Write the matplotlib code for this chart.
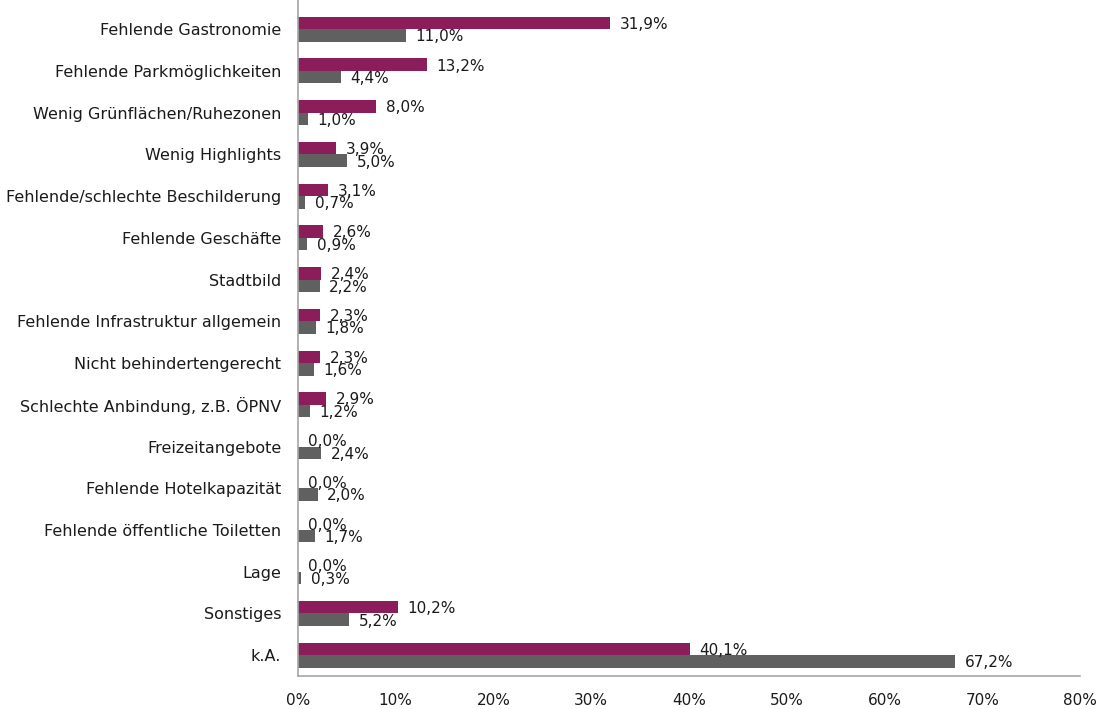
import numpy as np
import matplotlib.pyplot as plt

# Kategorien (von oben nach unten) und Anteile der beiden Befragungsgruppen
categories = [
    "Fehlende Gastronomie",
    "Fehlende Parkmöglichkeiten",
    "Wenig Grünflächen/Ruhezonen",
    "Wenig Highlights",
    "Fehlende/schlechte Beschilderung",
    "Fehlende Geschäfte",
    "Stadtbild",
    "Fehlende Infrastruktur allgemein",
    "Nicht behindertengerecht",
    "Schlechte Anbindung, z.B. ÖPNV",
    "Freizeitangebote",
    "Fehlende Hotelkapazität",
    "Fehlende öffentliche Toiletten",
    "Lage",
    "Sonstiges",
    "k.A.",
]
series_a = [31.9, 13.2, 8.0, 3.9, 3.1, 2.6, 2.4, 2.3, 2.3, 2.9, 0.0, 0.0, 0.0, 0.0, 10.2, 40.1]
series_b = [11.0, 4.4, 1.0, 5.0, 0.7, 0.9, 2.2, 1.8, 1.6, 1.2, 2.4, 2.0, 1.7, 0.3, 5.2, 67.2]
x_ticks = [0, 10, 20, 30, 40, 50, 60, 70, 80]

color_a = "#8C1D5B"
color_b = "#606060"
axis_gray = "#A6A6A6"

fig = plt.figure(figsize=(10.98, 7.09), dpi=100)
ax = fig.add_axes([0.2714, 0.0465, 0.7122, 0.9535])

y = np.arange(len(categories))
h = 0.3
bars_a = ax.barh(y - h / 2, series_a, height=h, color=color_a)
bars_b = ax.barh(y + h / 2, series_b, height=h, color=color_b)


def pct(v):
    return f"{v:.1f}%".replace(".", ",")


for bars, vals in ((bars_a, series_a), (bars_b, series_b)):
    for b, v in zip(bars, vals):
        ax.annotate(pct(v), (v, b.get_y() + b.get_height() / 2),
                    xytext=(7, -1), textcoords="offset points",
                    ha="left", va="center", fontsize=11, color="#1a1a1a")

ax.set_xlim(0, 80)
ax.set_ylim(len(categories) - 0.5, -0.7)
ax.set_xticks(x_ticks)
ax.set_xticklabels([f"{t}%" for t in x_ticks])
ax.set_yticks(y)
ax.set_yticklabels(categories)
ax.tick_params(axis="both", length=0, labelsize=11, colors="#1a1a1a")
ax.tick_params(axis="y", pad=12, labelsize=11.5)
ax.tick_params(axis="x", pad=12)

for s in ("top", "right"):
    ax.spines[s].set_visible(False)
for s in ("left", "bottom"):
    ax.spines[s].set_color(axis_gray)
    ax.spines[s].set_linewidth(1.2)

fig.savefig("out.png", dpi=100)
